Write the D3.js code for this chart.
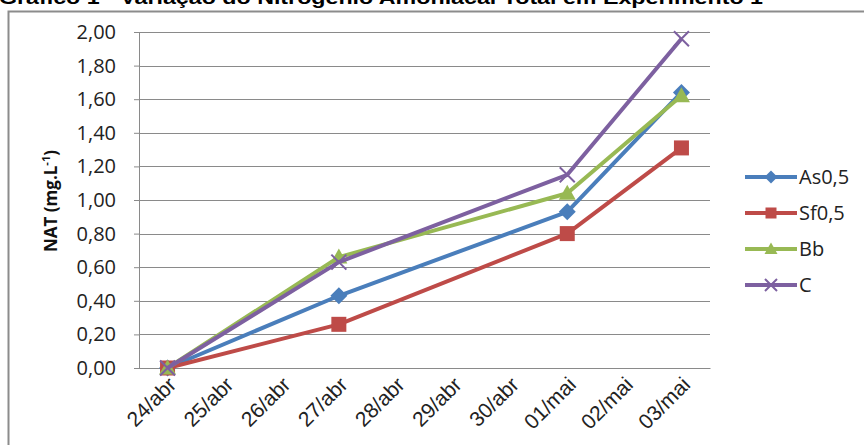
<!DOCTYPE html>
<html>
<head>
<meta charset="utf-8">
<script src="https://cdn.jsdelivr.net/npm/d3@7"></script>
<style>
  body { margin: 0; background: #fff; }
  svg { display: block; font-family: "Open Sans", "DejaVu Sans", sans-serif; }
</style>
</head>
<body>
<div id="container"></div>
<script>
const dates = ['24/abr', '25/abr', '26/abr', '27/abr', '28/abr', '29/abr', '30/abr', '01/mai', '02/mai', '03/mai'];
const seriesNames = ['As0,5', 'Sf0,5', 'Bb', 'C'];
// null = no sample that day
const as05 = [0, null, null, 0.43, null, null, null, 0.93, null, 1.64];
const sf05 = [0, null, null, 0.26, null, null, null, 0.80, null, 1.31];
const bb = [0, null, null, 0.66, null, null, null, 1.04, null, 1.62];
const cc = [0, null, null, 0.63, null, null, null, 1.15, null, 1.96];
const yTicks = [0, 0.2, 0.4, 0.6, 0.8, 1.0, 1.2, 1.4, 1.6, 1.8, 2.0];
const colors = ['#4a7ebb', '#be4b48', '#98b954', '#7d60a0'];
const shapes = ['diamond', 'square', 'triangle', 'cross'];

const width = 864, height = 445;
const margin = { top: 32, right: 154, bottom: 77, left: 139 };
const innerW = width - margin.left - margin.right;
const innerH = height - margin.top - margin.bottom;

const svg = d3.select('#container').append('svg').attr('width', width).attr('height', height);

// cut-off title + frame from the source document
svg.append('text').attr('x', -1).attr('y', 4)
  .attr('font-family', 'Liberation Sans, Arial, sans-serif').attr('font-weight', 'bold').attr('font-size', 19)
  .attr('textLength', 764).attr('lengthAdjust', 'spacingAndGlyphs')
  .text('Gráfico 1 - Variação do Nitrogênio Amoniacal Total em Experimento 1');
svg.append('path').attr('d', `M8.5,${height}V11.5H${width}`).attr('fill', 'none').attr('stroke', '#8c8c8c').attr('stroke-width', 2);

const g = svg.append('g').attr('transform', `translate(${margin.left},${margin.top})`);

const x = d3.scaleBand().domain(dates).range([0, innerW]);
const y = d3.scaleLinear().domain([0, 2]).range([innerH, 0]);

// gridlines
g.append('g').selectAll('line').data(yTicks).join('line')
  .attr('x1', 0).attr('x2', innerW)
  .attr('y1', d => Math.round(y(d)) + 0.5).attr('y2', d => Math.round(y(d)) + 0.5)
  .attr('stroke', '#8a8a8a').attr('stroke-width', 1);

// y axis
const yAxis = g.append('g').call(d3.axisLeft(y).tickValues(yTicks).tickSize(5).tickPadding(18)
  .tickFormat(d => d3.format('.2f')(d).replace('.', ',')));
yAxis.select('.domain').attr('stroke', '#8a8a8a');
yAxis.selectAll('.tick line').attr('stroke', '#8a8a8a');
yAxis.selectAll('text').attr('font-size', 20).attr('fill', '#222').attr('font-family', 'Open Sans, sans-serif');

// x axis
const xAxis = g.append('g').attr('transform', `translate(0,${innerH})`)
  .call(d3.axisBottom(x).tickSize(0).tickPadding(0));
xAxis.select('.domain').attr('stroke', '#8a8a8a');
xAxis.selectAll('text')
  .attr('font-size', 21).attr('fill', '#222')
  .attr('text-anchor', 'end').attr('dy', 0)
  .attr('transform', 'translate(10,18) rotate(-45)');

// y title
svg.append('text').attr('transform', 'translate(57,201) rotate(-90)')
  .attr('text-anchor', 'middle').attr('font-weight', 'bold').attr('font-size', 17).attr('fill', '#111')
  .text('NAT (mg.L').append('tspan').attr('dy', -7).attr('font-size', 11).text('-1')
  .select(function() { return this.parentNode; }).append('tspan').attr('dy', 7).text(')');

function marker(sel, shape, color, size) {
  if (shape === 'cross') {
    const s = size / 2;
    sel.append('path').attr('d', `M${-s},${-s}L${s},${s}M${-s},${s}L${s},${-s}`)
      .attr('stroke', color).attr('stroke-width', 2).attr('fill', 'none');
  } else if (shape === 'diamond') {
    const s = size / 2 + 1;
    sel.append('path').attr('d', `M0,${-s}L${s},0L0,${s}L${-s},0Z`).attr('fill', color);
  } else if (shape === 'square') {
    sel.append('rect').attr('x', -size / 2).attr('y', -size / 2).attr('width', size).attr('height', size).attr('fill', color);
  } else {
    const s = size / 2 + 1;
    sel.append('path').attr('d', `M0,${-s}L${s},${s * 0.75}L${-s},${s * 0.75}Z`).attr('fill', color);
  }
}

const allSeries = [as05, sf05, bb, cc];
const line = d3.line().x(d => x(d.date) + x.bandwidth() / 2).y(d => y(d.v));

allSeries.forEach((vals, i) => {
  const pts = dates.map((d, j) => ({ date: d, v: vals[j] })).filter(p => p.v !== null);
  g.append('path').datum(pts).attr('d', line).attr('fill', 'none')
    .attr('stroke', colors[i]).attr('stroke-width', 4).attr('stroke-linejoin', 'round');
  pts.forEach(p => {
    const m = g.append('g').attr('transform', `translate(${x(p.date) + x.bandwidth() / 2},${y(p.v)})`);
    marker(m, shapes[i], colors[i], 15);
  });
});

// legend
const legend = svg.append('g').attr('transform', 'translate(745,177)');
seriesNames.forEach((name, i) => {
  const row = legend.append('g').attr('transform', `translate(0,${i * 36})`);
  row.append('line').attr('x1', 0).attr('x2', 52).attr('stroke', colors[i]).attr('stroke-width', 4);
  const m = row.append('g').attr('transform', 'translate(26,0)');
  marker(m, shapes[i], colors[i], shapes[i] === 'cross' ? 12 : 11);
  row.append('text').attr('x', 54).attr('dy', '0.35em').attr('font-size', 20).attr('fill', '#222').text(name);
});
</script>
</body>
</html>
